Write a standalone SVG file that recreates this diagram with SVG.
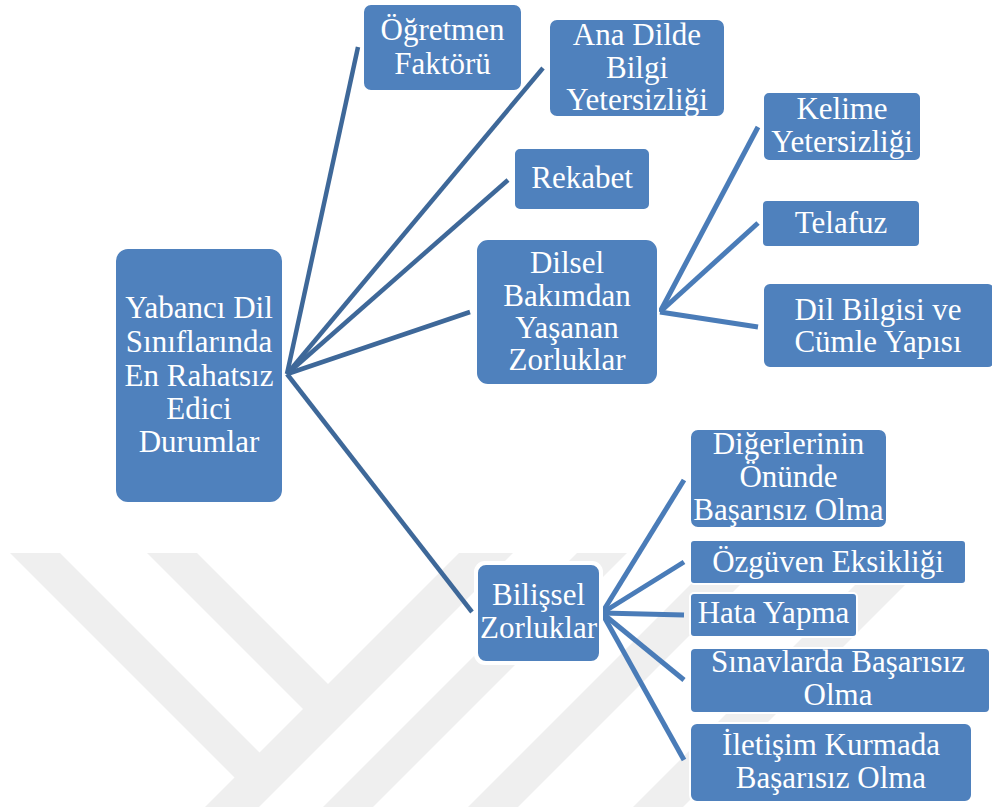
<svg xmlns="http://www.w3.org/2000/svg" width="992" height="807" viewBox="0 0 992 807">
<style>
.wm{fill:#efefef}
.box{fill:#4f81bd;stroke:#ffffff;stroke-width:2}
.t{font-size:31px;fill:#ffffff;text-anchor:middle}
.c1{stroke:#3e6899;stroke-width:4.5;fill:none;stroke-linecap:butt}
.c2{stroke:#4a7cb8;stroke-width:5;fill:none;stroke-linecap:butt}
</style>
<rect width="992" height="807" fill="#ffffff"/>
<g id="watermark">
<polygon class="wm" points="10,553 60,553 261.5,754.5 236.5,779.5"/>
<polygon class="wm" points="147,553 197,553 330,686 305,711"/>
<polygon class="wm" points="459,553 513,553 259,807 205,807"/>
<polygon class="wm" points="577,553 627,553 373,807 323,807"/>
<polygon class="wm" points="722,553 772,553 518,807 468,807"/>
<polygon class="wm" points="887,553 937,553 683,807 633,807"/>
</g>
<g id="connectors">
<line class="c1" x1="287" y1="374" x2="358" y2="47"/>
<line class="c1" x1="287" y1="374" x2="543" y2="68"/>
<line class="c1" x1="287" y1="374" x2="508" y2="180"/>
<line class="c1" x1="287" y1="374" x2="470" y2="312"/>
<line class="c1" x1="287" y1="374" x2="472" y2="612"/>
<line class="c2" x1="660" y1="312" x2="758" y2="127"/>
<line class="c2" x1="660" y1="312" x2="758" y2="223"/>
<line class="c2" x1="660" y1="312" x2="758" y2="327"/>
<line class="c2" x1="602" y1="613" x2="684" y2="480"/>
<line class="c2" x1="602" y1="613" x2="684" y2="562"/>
<line class="c2" x1="602" y1="613" x2="684" y2="615"/>
<line class="c2" x1="602" y1="613" x2="684" y2="680"/>
<line class="c2" x1="602" y1="613" x2="684" y2="760"/>
</g>
<g font-family="Liberation Serif, Times New Roman, serif">
<g id="root">
<rect class="box" x="115" y="248" width="168" height="255" rx="13"/>
<text class="t" x="199" y="318">Yabancı Dil</text>
<text class="t" x="199" y="352">Sınıflarında</text>
<text class="t" x="199" y="386">En Rahatsız</text>
<text class="t" x="199" y="419">Edici</text>
<text class="t" x="199" y="452">Durumlar</text>
</g>
<g id="ogretmen">
<rect class="box" x="363" y="4" width="159" height="87" rx="8"/>
<text class="t" x="442.5" y="40">Öğretmen</text>
<text class="t" x="442.5" y="74">Faktörü</text>
</g>
<g id="anadilde">
<rect class="box" x="549" y="19" width="176" height="98" rx="8"/>
<text class="t" x="637" y="45">Ana Dilde</text>
<text class="t" x="637" y="78">Bilgi</text>
<text class="t" x="637" y="110">Yetersizliği</text>
</g>
<g id="rekabet">
<rect class="box" x="514" y="148" width="136" height="62" rx="6"/>
<text class="t" x="582" y="188">Rekabet</text>
</g>
<g id="dilsel">
<rect class="box" x="476" y="239" width="182" height="146" rx="12"/>
<text class="t" x="567" y="273">Dilsel</text>
<text class="t" x="567" y="306">Bakımdan</text>
<text class="t" x="567" y="338">Yaşanan</text>
<text class="t" x="567" y="370">Zorluklar</text>
</g>
<g id="kelime">
<rect class="box" x="763" y="92" width="158" height="69" rx="6"/>
<text class="t" x="842" y="119">Kelime</text>
<text class="t" x="842" y="152">Yetersizliği</text>
</g>
<g id="telafuz">
<rect class="box" x="762" y="200" width="158" height="47" rx="5"/>
<text class="t" x="841" y="233">Telafuz</text>
</g>
<g id="dilbilgisi">
<rect class="box" x="763" y="283" width="232" height="85" rx="7"/>
<text class="t" x="878" y="320">Dil Bilgisi ve</text>
<text class="t" x="878" y="352">Cümle Yapısı</text>
</g>
<g id="bilissel">
<rect x="474" y="561" width="129" height="104" rx="11" fill="#ffffff"/>
<rect class="box" x="477" y="564" width="123" height="98" rx="9"/>
<text class="t" x="538.5" y="605">Bilişsel</text>
<text class="t" x="538.5" y="638">Zorluklar</text>
</g>
<g id="digerlerinin">
<rect class="box" x="690" y="429" width="197" height="99" rx="8"/>
<text class="t" x="788.5" y="454">Diğerlerinin</text>
<text class="t" x="788.5" y="487">Önünde</text>
<text class="t" x="788.5" y="520">Başarısız Olma</text>
</g>
<g id="ozguven">
<rect class="box" x="690" y="540" width="276" height="44" rx="4"/>
<text class="t" x="828" y="572">Özgüven Eksikliği</text>
</g>
<g id="hata">
<rect class="box" x="690" y="593" width="167" height="44" rx="4"/>
<text class="t" x="773.5" y="623">Hata Yapma</text>
</g>
<g id="sinavlarda">
<rect class="box" x="690" y="648" width="300" height="65" rx="5"/>
<text class="t" x="838" y="672">Sınavlarda Başarısız</text>
<text class="t" x="838" y="705">Olma</text>
</g>
<g id="iletisim">
<rect class="box" x="690" y="723" width="282" height="79" rx="7"/>
<text class="t" x="831" y="755">İletişim Kurmada</text>
<text class="t" x="831" y="788">Başarısız Olma</text>
</g>
</g>
</svg>
